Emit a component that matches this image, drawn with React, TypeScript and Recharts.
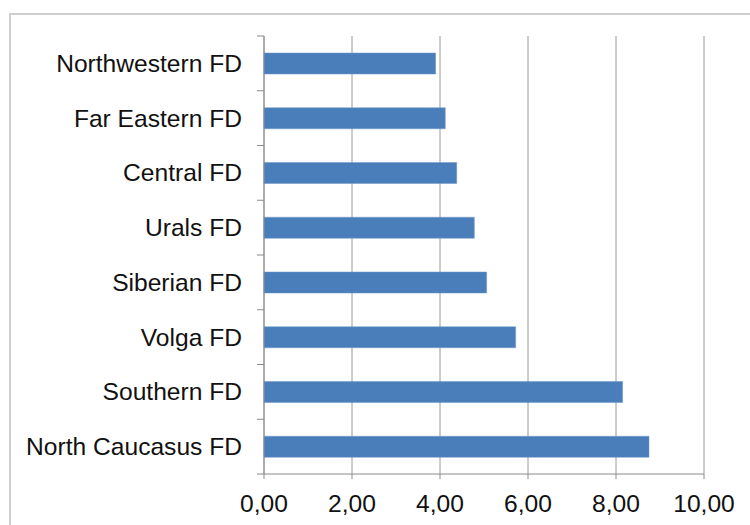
import React from 'react';
import { BarChart, Bar, XAxis, YAxis, CartesianGrid } from 'recharts';

const categories = [
  'Northwestern FD',
  'Far Eastern FD',
  'Central FD',
  'Urals FD',
  'Siberian FD',
  'Volga FD',
  'Southern FD',
  'North Caucasus FD',
];
const values = [3.9, 4.12, 4.38, 4.78, 5.06, 5.72, 8.15, 8.75];
const xTicks = [0, 2, 4, 6, 8, 10];

const data = categories.map((name, i) => ({ name, value: values[i] }));

const fmt = (v: number) => v.toFixed(2).replace('.', ',');

const FONT = 'Liberation Sans, Arial, sans-serif';
const TICK_MARGIN = 22;
const TICK_LEN = 7;

function CatTick(props: any) {
  const { x, y, payload, index, visibleTicksCount } = props;
  const half = payload && typeof payload.offset === 'number' && payload.offset > 0 ? payload.offset : 27.4;
  const axisX = x + TICK_MARGIN;
  const last = index === (visibleTicksCount ?? categories.length) - 1;
  return (
    <g>
      <line x1={axisX - TICK_LEN} x2={axisX} y1={y - half} y2={y - half} stroke="#8a8a8a" />
      {last && <line x1={axisX - TICK_LEN} x2={axisX} y1={y + half} y2={y + half} stroke="#8a8a8a" />}
      <text x={x} y={y} dy="0.35em" textAnchor="end" fill="#111" fontSize={24.6} fontFamily={FONT}>
        {payload.value}
      </text>
    </g>
  );
}

export default function App() {
  return (
    <div style={{ position: 'absolute', left: 0, top: 0, width: 750, height: 525, overflow: 'hidden', background: '#fff' }}>
      <div
        style={{
          position: 'absolute',
          left: 9,
          top: 13,
          width: 800,
          height: 600,
          border: '2px solid #cfcfcf',
          boxSizing: 'border-box',
        }}
      />
      <div style={{ position: 'absolute', left: 0, top: 0 }}>
        <BarChart
          width={750}
          height={525}
          data={data}
          layout="vertical"
          margin={{ top: 36, right: 46, bottom: 0, left: 0 }}
          barSize={21}
        >
          <CartesianGrid horizontal={false} stroke="#9a9a9a" strokeWidth={1} />
          <XAxis
            type="number"
            domain={[0, 10]}
            ticks={xTicks}
            tickFormatter={fmt}
            height={51}
            tickSize={5}
            tickMargin={16}
            axisLine={{ stroke: '#8a8a8a' }}
            tickLine={{ stroke: '#8a8a8a' }}
            tick={{ fill: '#111', fontSize: 24.6, fontFamily: FONT }}
            interval={0}
          />
          <YAxis
            type="category"
            dataKey="name"
            width={264}
            tickSize={0}
            tickMargin={TICK_MARGIN}
            axisLine={{ stroke: '#8a8a8a' }}
            tickLine={false}
            tick={<CatTick />}
            interval={0}
          />
          <Bar dataKey="value" fill="#4a7ebb" stroke="#6f97c8" strokeWidth={0.5} isAnimationActive={false} />
        </BarChart>
      </div>
    </div>
  );
}
